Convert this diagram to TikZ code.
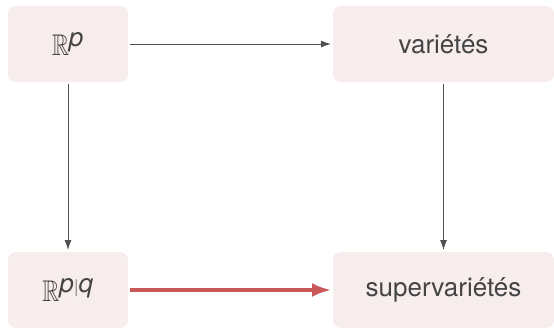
\documentclass[tikz,border=0pt]{standalone}
\usepackage{amsfonts}
\usepackage{fontspec}
\setmainfont{TeX Gyre Heros}
\setsansfont{TeX Gyre Heros}
\usetikzlibrary{arrows.meta}

\definecolor{boxfill}{HTML}{F8EDED}
\definecolor{textgray}{HTML}{444444}
\definecolor{arrowgray}{HTML}{505050}
\definecolor{superred}{HTML}{CA5858}

% blackboard R, a bit taller than the surrounding text
\newcommand{\bbR}{\scalebox{0.9}[1.15]{$\mathbb{R}$}}

\begin{document}
\begin{tikzpicture}[
    x=1pt, y=-1pt,
    box/.style={rectangle, rounded corners=8pt, fill=boxfill, text=textgray,
        minimum height=76pt, inner sep=0pt, outer sep=2pt,
        font=\fontsize{26}{30}\selectfont},
    smallbox/.style={box, minimum width=120pt},
    widebox/.style={box, minimum width=221pt},
    arr/.style={-{Latex[length=10pt,width=7pt]}, arrowgray, line width=1pt},
    superarr/.style={-{Latex[length=19pt,width=14pt]}, superred, line width=3.2pt}
]
    \useasboundingbox (0,0) rectangle (554,327);

    % Boxes
    \node[smallbox] (Rp)   at (68,44)     {\bbR$^{\textit{p}}$};
    \node[widebox]  (var)  at (443.5,44)  {variétés};
    \node[smallbox] (Rpq)  at (68,290)    {\bbR$^{\textit{p}|\textit{q}}$};
    \node[widebox]  (svar) at (443.5,290) {supervariétés};

    % Arrows
    \draw[arr] (Rp) -- (var);
    \draw[arr] (Rp) -- (Rpq);
    \draw[arr] (var) -- (svar);
    \draw[superarr] (Rpq) -- (svar);

\end{tikzpicture}
\end{document}
